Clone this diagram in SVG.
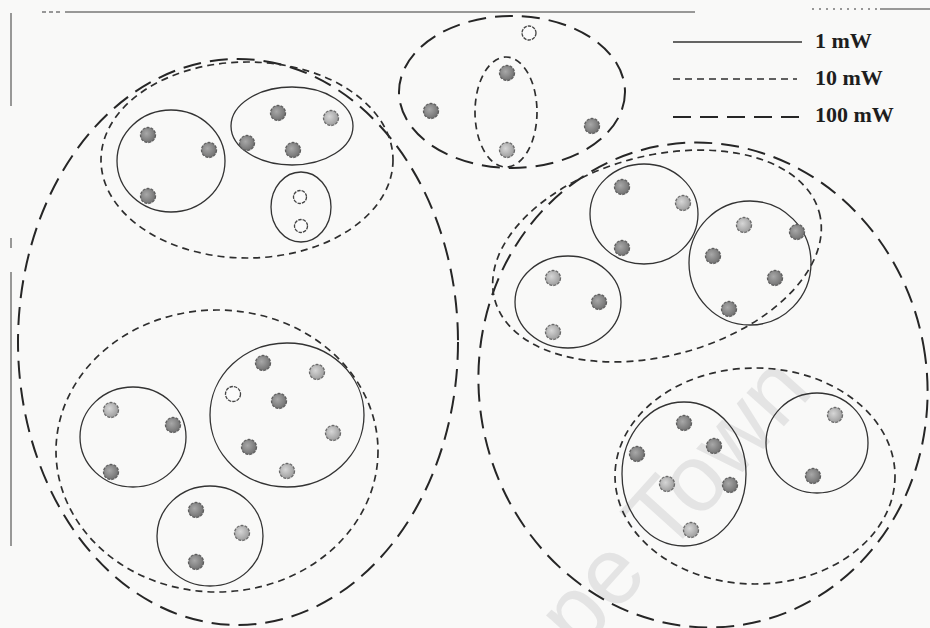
<svg xmlns="http://www.w3.org/2000/svg" width="930" height="628" viewBox="0 0 930 628">
<style>
.s1{fill:none;stroke:#333;stroke-width:1.3}
.s10{fill:none;stroke:#2e2e2e;stroke-width:1.7;stroke-dasharray:7 5}
.s100{fill:none;stroke:#262626;stroke-width:2;stroke-dasharray:18 9}
.d{fill:url(#gd);stroke:#5e5e5e;stroke-width:1.3;stroke-dasharray:3 1.2}
.l{fill:url(#gl);stroke:#6a6a6a;stroke-width:1.3;stroke-dasharray:3 1.2}
.h{fill:#fbfbfb;stroke:#444;stroke-width:1.3;stroke-dasharray:3.5 1}
.lbl{font-family:"Liberation Serif","Times New Roman",serif;font-weight:bold;font-size:22px;fill:#1e1e1e}
.frame{stroke:#777;stroke-width:1.5;fill:none}
</style>
<defs>
<radialGradient id="gd" cx="0.4" cy="0.4" r="0.7">
<stop offset="0" stop-color="#a8a8a8"/><stop offset="1" stop-color="#6a6a6a"/>
</radialGradient>
<radialGradient id="gl" cx="0.4" cy="0.4" r="0.7">
<stop offset="0" stop-color="#d6d6d6"/><stop offset="1" stop-color="#959595"/>
</radialGradient>
</defs>
<rect width="930" height="628" fill="#f9f9f8"/>
<text x="498" y="744" transform="rotate(-48 498 744)" font-family="'Liberation Sans',Arial,sans-serif" font-size="95" fill="#e4e4e4">Cape Town</text>
<g id="frame">
<line class="frame" x1="42" y1="12" x2="62" y2="12" stroke-dasharray="4 3"/>
<line class="frame" x1="65" y1="12" x2="695" y2="12"/>
<line class="frame" x1="812" y1="9" x2="880" y2="9" stroke-dasharray="2 5"/>
<line class="frame" x1="880" y1="9" x2="930" y2="9"/>
<line class="frame" x1="11" y1="13" x2="11" y2="106"/>
<line class="frame" x1="11" y1="238" x2="11" y2="248"/>
<line class="frame" x1="11" y1="272" x2="11" y2="546"/>
</g>
<g id="legend">
<line class="s1" x1="673" y1="42" x2="802" y2="42"/>
<text class="lbl" x="815" y="48">1 mW</text>
<line class="s10" x1="673" y1="79" x2="797" y2="79"/>
<text class="lbl" x="815" y="85">10 mW</text>
<line class="s100" x1="673" y1="117" x2="800" y2="117" stroke-dasharray="4 3 4 14 18 9 18 9 18 9 18 9"/>
<text class="lbl" x="815" y="122">100 mW</text>
</g>
<g id="connectors"></g>
<g id="cluster-top-middle">
<ellipse class="s100" cx="512" cy="92" rx="113" ry="76"/>
<ellipse class="s10" cx="506" cy="112" rx="31" ry="55"/>
<circle class="h" cx="529" cy="33" r="7"/>
<circle class="d" cx="507" cy="73" r="7.5"/>
<circle class="d" cx="431" cy="111" r="7.5"/>
<circle class="l" cx="507" cy="150" r="7.5"/>
<circle class="d" cx="592" cy="126" r="7.5"/>
</g>
<g id="cluster-left">
<ellipse class="s100" cx="238" cy="342" rx="220" ry="283"/>
</g>
<g id="cluster-left-top">
<ellipse class="s10" cx="247" cy="160" rx="146" ry="98"/>
<ellipse class="s1" cx="171" cy="161" rx="54" ry="51"/>
<circle class="d" cx="148" cy="135" r="7.5"/>
<circle class="d" cx="209" cy="150" r="7.5"/>
<circle class="d" cx="148" cy="196" r="7.5"/>
<ellipse class="s1" cx="292" cy="126" rx="61" ry="39"/>
<circle class="d" cx="278" cy="113" r="7.5"/>
<circle class="l" cx="331" cy="118" r="7.5"/>
<circle class="d" cx="247" cy="143" r="7.5"/>
<circle class="d" cx="293" cy="150" r="7.5"/>
<ellipse class="s1" cx="301" cy="207" rx="30" ry="35"/>
<circle class="h" cx="300" cy="197" r="6.5"/>
<circle class="h" cx="301" cy="226" r="6.5"/>
</g>
<g id="cluster-left-bottom">
<ellipse class="s10" cx="217" cy="451" rx="161" ry="141"/>
<ellipse class="s1" cx="133" cy="437" rx="53" ry="50"/>
<circle class="l" cx="111" cy="410" r="7.5"/>
<circle class="d" cx="173" cy="425" r="7.5"/>
<circle class="d" cx="111" cy="472" r="7.5"/>
<ellipse class="s1" cx="287" cy="415" rx="77" ry="72"/>
<circle class="d" cx="263" cy="363" r="7.5"/>
<circle class="l" cx="317" cy="372" r="7.5"/>
<circle class="h" cx="233" cy="394" r="7.5"/>
<circle class="d" cx="279" cy="401" r="7.5"/>
<circle class="l" cx="333" cy="433" r="7.5"/>
<circle class="d" cx="249" cy="447" r="7.5"/>
<circle class="l" cx="287" cy="471" r="7.5"/>
<ellipse class="s1" cx="210" cy="536" rx="53" ry="50"/>
<circle class="d" cx="196" cy="510" r="7.5"/>
<circle class="l" cx="242" cy="533" r="7.5"/>
<circle class="d" cx="196" cy="562" r="7.5"/>
</g>
<g id="cluster-right">
<ellipse class="s100" cx="703" cy="385" rx="224" ry="243" transform="rotate(-10 703 385)"/>
</g>
<g id="cluster-right-top">
<ellipse class="s10" cx="657" cy="256" rx="168" ry="100" transform="rotate(-15 657 256)"/>
<ellipse class="s1" cx="644" cy="214" rx="54" ry="50"/>
<circle class="d" cx="622" cy="187" r="7.5"/>
<circle class="l" cx="683" cy="203" r="7.5"/>
<circle class="d" cx="622" cy="248" r="7.5"/>
<ellipse class="s1" cx="750" cy="263" rx="61" ry="62"/>
<circle class="l" cx="744" cy="225" r="7.5"/>
<circle class="d" cx="797" cy="232" r="7.5"/>
<circle class="d" cx="713" cy="256" r="7.5"/>
<circle class="d" cx="775" cy="278" r="7.5"/>
<circle class="d" cx="729" cy="309" r="7.5"/>
<ellipse class="s1" cx="568" cy="302" rx="53" ry="46"/>
<circle class="l" cx="553" cy="278" r="7.5"/>
<circle class="d" cx="599" cy="302" r="7.5"/>
<circle class="l" cx="553" cy="332" r="7.5"/>
</g>
<g id="cluster-right-bottom">
<ellipse class="s10" cx="755" cy="476" rx="140" ry="108"/>
<ellipse class="s1" cx="684" cy="474" rx="62" ry="72"/>
<circle class="d" cx="684" cy="423" r="7.5"/>
<circle class="d" cx="714" cy="446" r="7.5"/>
<circle class="d" cx="637" cy="454" r="7.5"/>
<circle class="l" cx="667" cy="484" r="7.5"/>
<circle class="d" cx="730" cy="485" r="7.5"/>
<circle class="l" cx="691" cy="530" r="7.5"/>
<ellipse class="s1" cx="817" cy="443" rx="51" ry="50"/>
<circle class="l" cx="835" cy="415" r="7.5"/>
<circle class="d" cx="813" cy="476" r="7.5"/>
</g>
</svg>
